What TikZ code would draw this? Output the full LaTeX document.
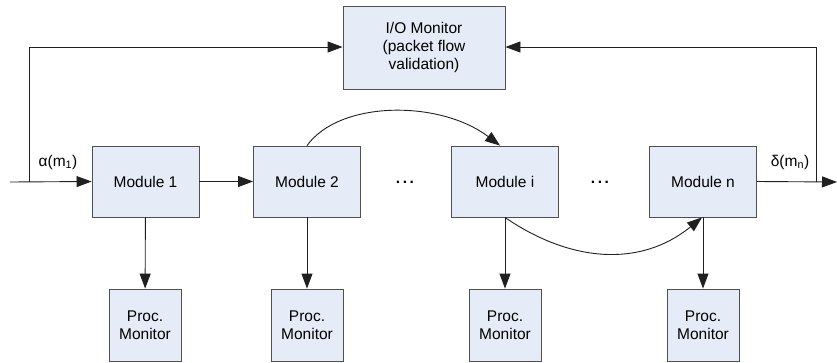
\documentclass[tikz,border=0pt]{standalone}
\usepackage{fontspec}
\setmainfont{Liberation Sans}
\usetikzlibrary{arrows.meta}
\definecolor{boxfill}{HTML}{E6ECF7}
\definecolor{boxline}{HTML}{505050}
\definecolor{wire}{HTML}{202020}
\begin{document}
\begin{tikzpicture}[x=1pt,y=-1pt,
  box/.style={draw=boxline,fill=boxfill,line width=0.9pt,inner sep=0pt,align=center,
    font=\fontsize{15.5}{18}\selectfont},
  modbox/.style={box,minimum width=107pt,minimum height=71pt},
  procbox/.style={box,minimum width=72pt,minimum height=72pt},
  wirestyle/.style={draw=wire,line width=0.9pt},
  arr/.style={wirestyle,-{Triangle[length=15pt,width=11pt]}},
  lbl/.style={font=\fontsize{15.5}{18}\selectfont,inner sep=0pt}]
\useasboundingbox (0,0) rectangle (837,362);
\node[box,minimum width=162pt,minimum height=83pt] (io) at (424,47.5) {I/O Monitor\\(packet flow\\validation)};
\node[modbox] (m1) at (145.5,181.5) {Module 1};
\node[modbox] (m2) at (307,181.5) {Module 2};
\node[modbox] (mi) at (505,181.5) {Module i};
\node[modbox] (mn) at (703,181.5) {Module n};
\node[procbox] (p1) at (145,325) {Proc.\\Monitor};
\node[procbox] (p2) at (307,325) {Proc.\\Monitor};
\node[procbox] (p3) at (505,325) {Proc.\\Monitor};
\node[procbox] (p4) at (703,325) {Proc.\\Monitor};
\node[lbl] (d1) at (405,182) {\textbf{.\,.\,.}};
\node[lbl] (d2) at (600,182) {\textbf{.\,.\,.}};
\coordinate (in) at (10,182);
\coordinate (split) at (29,182);
\coordinate (out) at (837,182);
\coordinate (join) at (816,182);
\node[lbl] (alpha) at (58,162) {α(m\textsubscript{1})};
\node[lbl] (delta) at (790,162) {δ(m\textsubscript{n})};
\draw[arr] (in) -- (m1.west);
\draw[arr] (split) |- (io.west |- 0,47);
\draw[arr] (m1) -- (m2);
\draw[arr] (mn.east) -- (out);
\draw[arr] (join) |- (io.east |- 0,47);
\draw[arr] (m1) -- (p1);
\draw[arr] (m2) -- (p2);
\draw[arr] (mi) -- (p3);
\draw[arr] (mn) -- (p4);
\draw[arr] (m2.north) .. controls (340,100) and (440,100) .. ([xshift=-5pt]mi.north);
\draw[arr] (mi.south) .. controls (570,262) and (640,268) .. ([xshift=-1pt]mn.south);
\end{tikzpicture}
\end{document}
